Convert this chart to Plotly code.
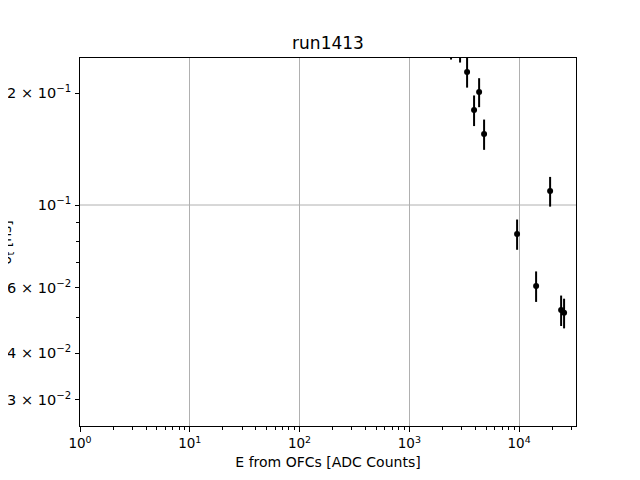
import numpy as np
import plotly.graph_objects as go

# Data
energy = [2400, 2900, 3360, 3890, 4325, 4800, 9590, 14290, 19170, 24150, 25700]
sigma_t = [0.271, 0.2665, 0.2278, 0.180, 0.2012, 0.1552, 0.0836, 0.0606, 0.1090, 0.0522, 0.0513]
sigma_err = [0.025, 0.025, 0.021, 0.017, 0.018, 0.0145, 0.0078, 0.0057, 0.0100, 0.0049, 0.0047]

x_major = [1, 10, 100, 1000, 10000]
x_major_text = ["10<sup>0</sup>", "10<sup>1</sup>", "10<sup>2</sup>", "10<sup>3</sup>", "10<sup>4</sup>"]
y_labeled = [0.03, 0.04, 0.06, 0.1, 0.2]
y_labeled_text = ["3 × 10<sup>−2</sup>", "4 × 10<sup>−2</sup>", "6 × 10<sup>−2</sup>",
                  "10<sup>−1</sup>", "2 × 10<sup>−1</sup>"]
y_minor = [0.05, 0.07, 0.08, 0.09]
y_grid = [0.1]

x_minor = [m * d for d in [1, 10, 100, 1000, 10000] for m in range(2, 10)]

fig = go.Figure()
fig.add_trace(go.Scatter(
    x=energy, y=sigma_t, mode="markers",
    marker=dict(color="black", size=6),
    error_y=dict(type="data", array=sigma_err, color="black", thickness=2, width=0),
    showlegend=False, cliponaxis=True,
))

font = "DejaVu Sans"
fig.update_layout(
    width=640, height=480,
    margin=dict(l=72, r=72, t=50, b=62, autoexpand=False),
    plot_bgcolor="white", paper_bgcolor="white",
    font=dict(family=font, color="black", size=13),
    title=dict(text="run1413", x=(72 + 248) / 640, xanchor="center", y=1 - 35 / 480, yanchor="middle",
               font=dict(size=17, family=font)),
    showlegend=False,
)
fig.update_xaxes(
    type="log", range=[0, np.log10(33000)], automargin=False,
    tickvals=x_major, ticktext=x_major_text,
    ticks="outside", ticklen=5, tickwidth=1, tickcolor="black",
    showgrid=True, gridcolor="#b0b0b0", gridwidth=1,
    showline=True, linecolor="black", linewidth=1, mirror=True,
    zeroline=False,
    minor=dict(tickvals=x_minor, ticks="outside", ticklen=3, tickcolor="black", showgrid=False),
    title=dict(text="E from OFCs [ADC Counts]", font=dict(size=14), standoff=6),
    tickfont=dict(size=13.5),
)
fig.update_yaxes(
    type="log", range=[np.log10(0.02547), np.log10(0.2484)], automargin=False,
    tickvals=y_labeled, ticktext=y_labeled_text,
    ticks="outside", ticklen=4, tickwidth=1, tickcolor="black",
    showgrid=False,
    showline=True, linecolor="black", linewidth=1, mirror=True,
    zeroline=False,
    minor=dict(tickvals=y_minor, ticks="outside", ticklen=3, tickcolor="black", showgrid=False),
    tickfont=dict(size=14.5), ticklabelstandoff=1,
)
for gv in y_grid:
    fig.add_shape(type="line", xref="paper", x0=0, x1=1, yref="y", y0=gv, y1=gv,
                  line=dict(color="#b0b0b0", width=1), layer="below")

fig.add_annotation(
    text="σ<sub>t</sub> [ns]", textangle=-90, showarrow=False,
    xref="paper", yref="paper", x=-0.124, y=0.5, xanchor="right", yanchor="middle",
    font=dict(size=14, family=font),
)

fig.write_html("out.html")
